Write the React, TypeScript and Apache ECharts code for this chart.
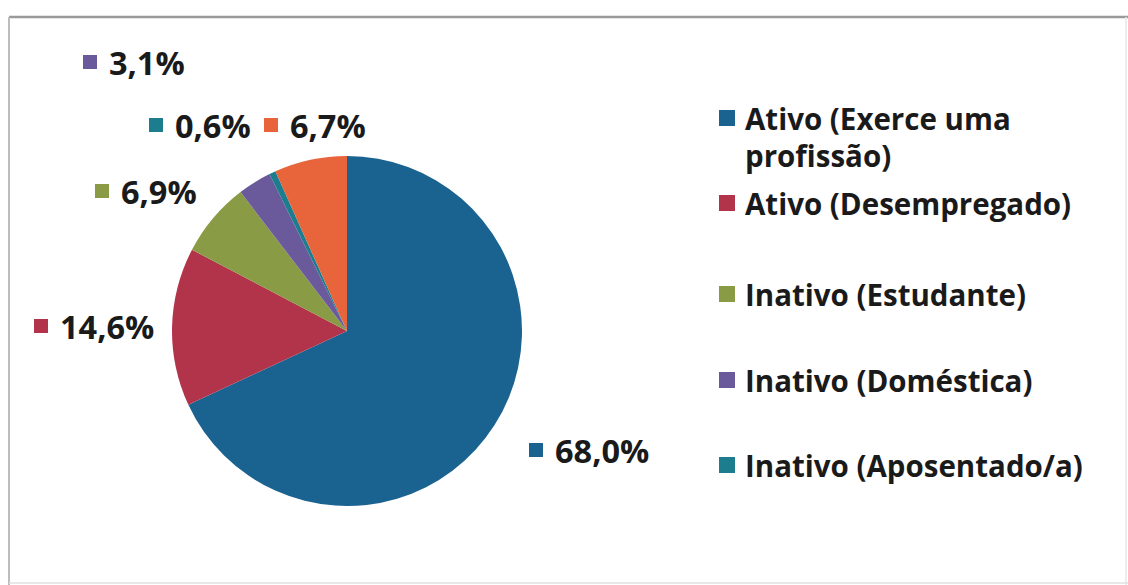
import React, { useEffect, useRef } from "react";
import * as echarts from "echarts";

const categories = [
  "Ativo (Exerce uma profissão)",
  "Ativo (Desempregado)",
  "Inativo (Estudante)",
  "Inativo (Doméstica)",
  "Inativo (Aposentado/a)",
  "Outro",
];
const values = [68.0, 14.6, 6.9, 3.1, 0.6, 6.7];
const colors = ["#1a6391", "#b2344a", "#8a9b45", "#6a5a9c", "#1b7d8e", "#e8643a"];
const legendNames = categories.slice(0, 5);

// label anchor (left edge of the colored square, vertical middle) in px
const labelAnchors: [number, number][] = [
  [529, 450],
  [34, 326],
  [95, 191],
  [83, 62],
  [149, 125],
  [264, 125],
];
// legend marker centre y positions
const legendY = [118, 203, 294, 380, 465];

const FONT = "'Open Sans'";

export default function App() {
  const ref = useRef<HTMLDivElement>(null);
  useEffect(() => {
    const chart = echarts.init(ref.current!, undefined, { renderer: "svg" });
    const lh = 37;
    const legends = legendNames.map((name, i) => {
      const multi = i === 0;
      const h = multi ? lh * 3 : lh;
      return {
        orient: "vertical",
        left: 719,
        top: legendY[i] - h / 2,
        padding: 0,
        data: [name],
        icon: "rect",
        itemWidth: 16,
        itemHeight: 16,
        selectedMode: false,
        formatter: (n: string) =>
          n === categories[0] ? "\nAtivo (Exerce uma\nprofissão)" : n,
        textStyle: {
          fontFamily: FONT,
          fontWeight: "bold",
          fontSize: 29.5,
          color: "#1a1a1a",
          lineHeight: lh,
          padding: [0, 0, 0, 5],
        },
      };
    });
    chart.setOption({
      animation: false,
      backgroundColor: "#ffffff",
      color: colors,
      graphic: [
        { type: "line", shape: { x1: 9, y1: 17, x2: 1128, y2: 17 }, style: { stroke: "#9a9a9a", lineWidth: 2.5 } },
        { type: "line", shape: { x1: 9, y1: 17, x2: 9, y2: 585 }, style: { stroke: "#bdbdbd", lineWidth: 2 } },
        { type: "line", shape: { x1: 1126, y1: 17, x2: 1126, y2: 585 }, style: { stroke: "#e6e6e6", lineWidth: 1.5 } },
        { type: "line", shape: { x1: 9, y1: 583, x2: 1128, y2: 583 }, style: { stroke: "#e0e0e0", lineWidth: 1.5 } },
      ],
      legend: legends,
      series: [
        {
          type: "pie",
          center: [347, 331],
          radius: 175,
          startAngle: 90,
          clockwise: true,
          data: categories.map((name, i) => ({ name, value: values[i] })),
          label: {
            show: true,
            position: "outside",
            overflow: "none",
            edgeDistance: 0,
            bleedMargin: 0,
            formatter: (p: any) =>
              `{sq${p.dataIndex}|}{gap|}{v|${values[p.dataIndex].toFixed(1).replace(".", ",")}%}`,
            rich: {
              ...Object.fromEntries(
                colors.map((c, i) => [
                  `sq${i}`,
                  { width: 14, height: 14, backgroundColor: c },
                ])
              ),
              gap: { width: 12 },
              v: {
                fontFamily: FONT,
                fontWeight: "bold",
                fontSize: 32.5,
                color: "#1a1a1a",
              },
            },
          },
          labelLine: { show: false },
          labelLayout: (params: any) => {
            const a = labelAnchors[params.dataIndex];
            return { x: a[0], y: a[1], align: "left", verticalAlign: "middle" };
          },
          emphasis: { disabled: true },
        },
      ],
    });
    return () => chart.dispose();
  }, []);
  return (
    <div
      ref={ref}
      style={{ position: "fixed", left: 0, top: 0, width: 1128, height: 585 }}
    />
  );
}
